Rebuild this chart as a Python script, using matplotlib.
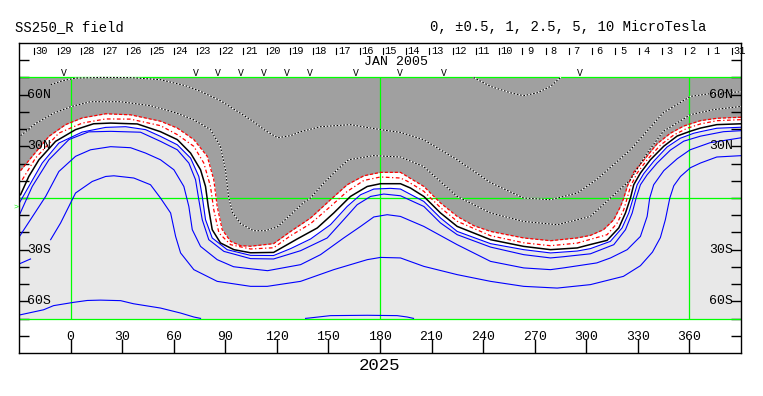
import matplotlib
matplotlib.use('Agg')
import matplotlib.pyplot as plt
import numpy as np

plt.rcParams['font.family'] = ['Liberation Mono', 'DejaVu Sans Mono']

# contour lines as (carrington longitude, latitude) pairs
red_dash = [(-29.1, 15.9), (-22.3, 24.2), (-12.6, 35.8), (-2.9, 42.6), (6.8, 46.5), (20.4, 48.9),
            (34.9, 48.3), (52.3, 44.6), (62.1, 40.6), (71.7, 33.9), (79.5, 24.2), (83.3, 10.6),
            (85.3, -4.9), (88.2, -18.4), (93.1, -25.2), (98.9, -27.7), (104.7, -28.0), (118.1, -26.5),
            (128.0, -19.4), (139.6, -11.6), (151.2, -1.0), (160.9, 7.7), (170.6, 12.9), (180.3, 14.9),
            (191.9, 14.9), (195.8, 12.5), (205.5, 6.7), (215.2, -2.9), (224.9, -10.7), (234.6, -16.1),
            (244.3, -19.4), (263.6, -23.2), (279.2, -24.8), (294.7, -23.2), (302.4, -21.7), (310.0, -18.4),
            (316.0, -12.6), (319.9, -4.9), (321.8, 0.0), (324.0, 7.1), (327.6, 15.0), (333.3, 21.8),
            (341.2, 31.5), (348.9, 37.6), (356.7, 41.8), (366.4, 44.9), (376.1, 46.3), (390.3, 46.9)]

red_dot = [(-28.1, 10.6), (-20.4, 23.2), (-6.8, 37.7), (6.8, 43.5), (20.4, 45.9), (34.9, 45.8),
           (52.3, 42.0), (62.1, 36.8), (71.7, 30.0), (77.5, 20.3), (81.4, 6.7), (83.3, -6.8),
           (86.3, -20.3), (93.1, -27.1), (104.7, -29.6), (118.1, -28.9), (128.0, -21.9), (139.6, -14.9),
           (151.2, -4.9), (160.9, 3.8), (170.6, 10.2), (180.3, 12.2), (191.9, 11.6), (195.8, 9.8),
           (205.5, 3.9), (215.2, -5.6), (224.9, -13.5), (244.3, -21.9), (263.6, -26.0), (279.2, -27.7),
           (294.7, -26.2), (302.4, -24.0), (312.1, -21.3), (318.0, -14.5), (321.8, -6.8), (323.8, 0.0),
           (325.7, 6.7), (329.6, 14.5), (335.4, 22.2), (343.1, 30.7), (350.9, 36.6), (358.7, 40.5),
           (366.4, 43.0), (376.1, 44.9), (390.3, 45.5)]

neutral = [(-29.1, 1.9), (-24.3, 12.5), (-18.4, 22.2), (-8.7, 32.9), (2.9, 39.7), (13.4, 43.1),
           (23.3, 43.5), (38.8, 43.0), (52.3, 38.5), (62.1, 33.9), (69.8, 26.1), (75.6, 16.4),
           (78.5, 6.7), (80.1, -4.9), (82.4, -18.4), (87.2, -26.1), (95.0, -30.0), (104.7, -31.8),
           (118.1, -31.6), (131.8, -23.8), (143.5, -17.4), (153.1, -8.7), (162.8, 0.9), (172.6, 6.7),
           (180.3, 8.3), (191.9, 8.3), (197.7, 5.8), (205.5, 0.9), (215.2, -8.7), (224.9, -16.5),
           (244.3, -24.2), (263.6, -28.1), (279.2, -30.0), (294.7, -29.0), (302.4, -27.0), (312.1, -24.6),
           (318.9, -17.4), (322.8, -8.7), (325.7, 0.0), (327.6, 7.7), (331.5, 14.5), (337.3, 22.2),
           (345.1, 30.1), (352.9, 36.0), (360.6, 38.8), (366.4, 40.6), (375.9, 42.6), (390.3, 43.1)]

pos_1 = [(-29.7, -2.7), (-24.3, 6.7), (-16.5, 20.3), (-6.8, 31.9), (6.8, 38.3), (20.4, 41.0),
         (32.0, 41.4), (43.6, 39.7), (52.3, 35.8), (62.1, 30.9), (69.8, 23.2), (74.6, 12.5),
         (76.6, 0.9), (78.5, -12.6), (82.4, -23.2), (91.1, -30.0), (104.7, -33.3), (118.1, -33.4),
         (128.0, -29.4), (139.6, -23.8), (151.2, -15.5), (160.9, -4.9), (168.7, 1.9), (176.4, 5.2),
         (186.1, 5.6), (191.9, 5.2), (205.5, -2.0), (215.2, -11.6), (224.9, -19.4), (244.3, -26.5),
         (263.6, -30.0), (279.2, -31.9), (294.7, -30.8), (302.4, -29.4), (314.0, -25.2), (320.8, -17.4),
         (324.7, -8.7), (327.3, 0.0), (329.6, 7.7), (333.4, 14.1), (339.2, 21.3), (347.0, 29.6),
         (354.7, 34.7), (362.5, 37.6), (366.4, 38.5), (375.9, 40.5), (390.3, 41.1)]

pos_2 = [(-29.7, -9.7), (-22.3, 6.7), (-12.6, 22.2), (-1.0, 33.9), (10.5, 38.4), (23.3, 38.7),
         (40.7, 38.2), (52.3, 32.9), (62.1, 28.0), (68.8, 20.3), (72.7, 10.6), (74.6, -1.0),
         (76.6, -12.6), (80.4, -24.2), (89.2, -31.0), (104.7, -35.2), (118.1, -35.4), (133.8, -30.6),
         (149.3, -23.2), (158.9, -12.6), (166.7, -3.9), (174.5, 0.9), (182.2, 2.3), (191.9, 1.3),
         (205.5, -4.9), (215.2, -14.5), (224.9, -21.3), (244.3, -28.5), (263.6, -32.9), (279.2, -34.8),
         (286.7, -34.1), (302.4, -32.4), (316.0, -27.1), (322.8, -18.4), (326.7, -8.7), (329.0, 0.0),
         (331.5, 7.7), (335.4, 13.5), (341.2, 20.3), (348.9, 27.8), (356.7, 33.0), (366.4, 35.9),
         (379.8, 38.5), (390.3, 39.1)]

pos_3 = [(-29.7, -22.3), (-14.5, 0.9), (-6.8, 15.4), (2.9, 24.2), (11.6, 28.0), (23.3, 29.8),
         (34.9, 29.2), (43.6, 26.1), (52.3, 22.2), (60.1, 16.4), (65.9, 6.7), (68.8, -4.9),
         (70.8, -18.4), (75.6, -28.1), (85.3, -35.8), (94.8, -39.9), (104.7, -41.1), (114.6, -42.2),
         (133.8, -38.7), (145.4, -32.9), (158.9, -23.2), (168.7, -16.5), (176.4, -11.0), (184.2, -9.7),
         (191.9, -10.7), (205.5, -16.5), (224.9, -27.1), (244.3, -36.8), (263.6, -40.6), (279.2, -41.6),
         (286.7, -40.6), (306.1, -37.7), (314.1, -34.8), (323.8, -30.0), (331.5, -22.3), (335.4, -10.7),
         (336.9, 0.0), (339.2, 7.7), (345.1, 15.9), (352.9, 22.8), (360.4, 28.0), (372.0, 32.1),
         (390.3, 35.0)]

pos_4 = [(-11.6, -24.2), (-5.8, -14.5), (-2.9, -8.7), (2.9, 2.9), (12.6, 9.6), (20.4, 12.5),
         (25.2, 12.9), (36.8, 11.6), (46.5, 7.7), (52.3, 0.0), (58.2, -8.7), (61.1, -22.3),
         (64.0, -31.9), (71.7, -41.6), (85.3, -48.4), (104.7, -51.3), (114.4, -51.3), (133.8, -48.4),
         (153.1, -41.6), (172.6, -35.8), (180.3, -34.5), (191.9, -34.8), (205.5, -39.7), (224.9, -44.5),
         (244.3, -48.4), (263.6, -51.3), (283.1, -52.3), (302.4, -50.3), (321.6, -45.5), (331.5, -39.3),
         (338.5, -31.4), (343.1, -23.0), (346.0, -12.6), (348.6, 0.0), (350.9, 7.1), (354.8, 12.5),
         (360.6, 17.6), (366.4, 20.3), (375.9, 23.8), (390.3, 24.6)]

pos_4_edge = [(-29.7, -38.2), (-23.3, -35.4)]

pos_5a = [(-29.1, -67.8), (-15.7, -64.9), (-9.9, -62.5), (1.7, -60.6), (9.7, -59.5), (17.4, -59.3),
          (29.1, -59.6), (36.6, -61.4), (52.3, -63.9), (64.0, -66.8), (71.7, -69.1), (75.6, -69.9)]
pos_5b = [(136.7, -69.9), (139.6, -69.6), (151.2, -68.3), (172.6, -68.1), (190.0, -68.3),
          (195.8, -69.1), (199.5, -69.9)]

neg_a = [(-11.6, 65.8), (-4.7, 68.1), (2.9, 69.6), (17.4, 70.0), (34.9, 69.9), (52.3, 68.7),
         (66.9, 65.2), (75.6, 61.9), (87.2, 56.5), (104.7, 45.5), (113.4, 39.1), (120.4, 35.0),
         (128.0, 36.2), (133.8, 38.5), (145.4, 41.4), (162.8, 42.6), (180.3, 39.7), (191.9, 38.1),
         (205.3, 33.9), (224.9, 22.2), (244.3, 8.9), (263.5, 0.0), (279.2, -1.0), (294.7, 2.9),
         (305.9, 10.6), (325.7, 28.0), (344.8, 49.5), (360.6, 59.0), (372.2, 60.6), (390.3, 61.7)]

neg_b = [(-29.1, 36.2), (-20.4, 43.2), (-9.9, 49.2), (0.0, 53.0), (11.6, 55.9), (29.1, 55.9),
         (46.5, 53.6), (61.1, 49.5), (71.5, 45.5), (81.4, 39.7), (87.2, 29.8), (90.1, 16.4),
         (91.9, 0.8), (94.2, -8.5), (98.9, -14.9), (106.4, -19.0), (113.4, -19.0), (120.4, -16.7),
         (128.0, -9.7), (135.5, -2.7), (139.6, 0.0), (147.3, 8.7), (155.1, 16.4), (161.7, 22.2),
         (176.2, 24.6), (191.9, 23.8), (205.3, 18.3), (224.9, 0.9), (244.3, -8.7), (263.5, -13.6),
         (283.1, -15.5), (302.4, -10.7), (325.7, 10.6), (335.4, 26.1), (344.8, 38.7), (360.6, 48.4),
         (374.0, 51.3), (390.3, 53.2)]

neg_c = [(234.4, 70.0), (244.3, 64.8), (255.9, 61.1), (263.5, 59.4), (271.6, 61.1), (279.2, 64.8),
         (285.0, 70.0)]

# observation marks along the top and the day labels of the rotation
obs_lon = [-4.1, 72.7, 85.5, 98.9, 112.3, 125.6, 139.0, 165.8, 191.3, 216.9, 296.0]
day_labels = [30, 29, 28, 27, 26, 25, 24, 23, 22, 21, 20, 19, 18, 17, 16, 15,
              14, 13, 12, 11, 10, 9, 8, 7, 6, 5, 4, 3, 2, 1, 31]
day_first_lon = -21.1
day_step = 13.52
lon_ticks = list(range(0, 361, 30))
lat_ticks = list(range(-80, 81, 10))
lat_labels = {60: '60N', 30: '30N', -30: '30S', -60: '60S'}

dark = '#a0a0a0'
light = '#e8e8e8'
green = '#00ff00'

fig = plt.figure(figsize=(7.63, 3.96), dpi=100)
ax = fig.add_axes([19 / 763, 43 / 396, 722 / 763, 310 / 396])
ax.set_xlim(-30, 390)
ax.set_ylim(-90, 90)

# shading: light background, dark negative region, white band near the neutral line
grid = np.linspace(-30, 390, 4201)
r1 = np.array(red_dash).T
b1 = np.array(pos_1).T
r1_f = np.interp(grid, r1[0], r1[1])
b1_f = np.interp(grid, b1[0], b1[1])
ax.fill_between(grid, -70, 70, color=light, lw=0, zorder=0)
ax.fill_between(grid, r1_f, 70, color=dark, lw=0, zorder=1)
ax.fill_between(grid, b1_f, r1_f, color='white', lw=0, zorder=1)

# green grid
for la in [70, 0, -70]:
    ax.axhline(la, color=green, lw=0.9, zorder=2)
ax.vlines([0, 180, 360], -70, 70, color=green, lw=0.9, zorder=2)

def draw(line, **kw):
    a = np.array(line).T
    ax.plot(a[0], a[1], **kw)

for ln in [pos_1, pos_2, pos_3, pos_4, pos_4_edge, pos_5a, pos_5b]:
    draw(ln, color='#0000ff', lw=0.8, zorder=4)
draw(neutral, color='black', lw=1.1, zorder=5)
draw(red_dot, color='red', lw=0.9, ls=(0, (3, 2, 1, 2)), zorder=5)
draw(red_dash, color='red', lw=0.9, ls=(0, (2.5, 1.5)), zorder=5)
for ln in [neg_a, neg_b, neg_c]:
    draw(ln, color='white', lw=0.8, zorder=4)
    draw(ln, color='black', lw=0.8, ls=(0, (1.5, 1.5)), zorder=5)

# axes, ticks and labels
for s in ax.spines.values():
    s.set_linewidth(1)
    s.set_zorder(10)
ax.set_xticks(lon_ticks)
ax.set_yticks(lat_ticks)
ax.tick_params(axis='x', direction='in', length=10, width=1, top=False, labelbottom=False)
ax.tick_params(axis='y', direction='in', length=7, width=1, left=True, right=True, labelleft=False)

for lo in lon_ticks:
    ax.text(lo, -80.5, str(lo), fontsize=9.5, ha='center', va='center')

ytr = ax.get_yaxis_transform()
for la, txt in lat_labels.items():
    ax.text(0.011, la, txt, transform=ytr, fontsize=9.5, ha='left', va='center', zorder=6)
    ax.text(0.989, la, txt, transform=ytr, fontsize=9.5, ha='right', va='center', zorder=6)

for i, d in enumerate(day_labels):
    mlon = day_first_lon + i * day_step
    ax.plot([mlon, mlon], [83.8, 86.9], color='black', lw=0.8)
    ax.text(mlon + 4.5, 85.2, str(d), fontsize=7.5, ha='center', va='center')

for lo in obs_lon:
    ax.text(lo, 72.4, 'V', fontsize=7, ha='center', va='center')

ax.text(189.3, 78.8, 'JAN 2005', fontsize=9.5, ha='center', va='center')

fig.text(15 / 763, 1 - 27 / 396, 'SS250_R field', fontsize=10, ha='left', va='center')
fig.text(430 / 763, 1 - 27 / 396, '0, \u00b10.5, 1, 2.5, 5, 10 MicroTesla', fontsize=10,
         ha='left', va='center')
fig.text(380 / 763, 1 - 366 / 396, '2025', fontsize=12.5, ha='center', va='center')
fig.text(16 / 763, 1 - 207 / 396, '>', fontsize=6, color=green, ha='center', va='center')

fig.savefig('out.png', dpi=100)
